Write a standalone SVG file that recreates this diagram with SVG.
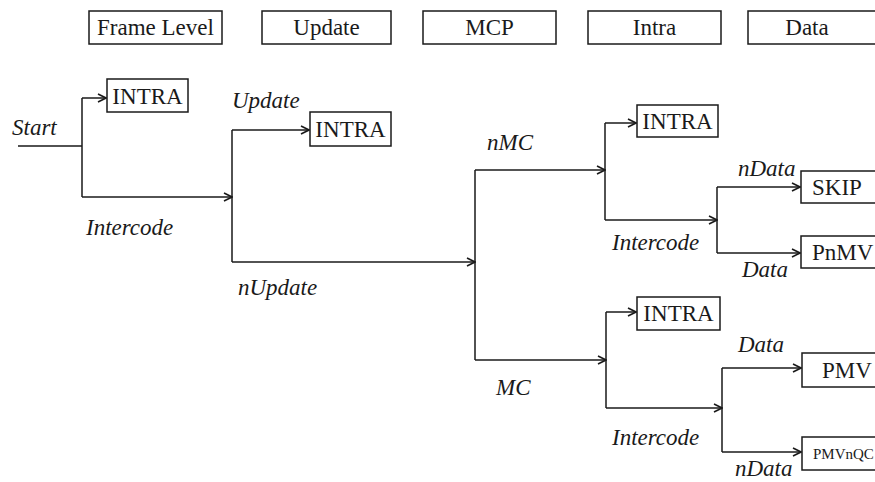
<svg xmlns="http://www.w3.org/2000/svg" width="875" height="482" viewBox="0 0 875 482">
  <style>
    .box { fill: #fff; stroke: #1a1a1a; stroke-width: 1.5; }
    .hdr { font-family: "Liberation Serif", "Times New Roman", serif; font-size: 23px; fill: #1a1a1a; text-anchor: middle; }
    .lbl { font-family: "Liberation Serif", "Times New Roman", serif; font-size: 23px; fill: #1a1a1a; }
    .lbl-c { text-anchor: middle; }
    .small { font-size: 15px; }
    .edge { font-family: "Liberation Serif", "Times New Roman", serif; font-size: 23px; font-style: italic; fill: #1a1a1a; }
    .wire { fill: none; stroke: #1a1a1a; stroke-width: 1.5; }
  </style>
  <defs>
    <marker id="chev" viewBox="0 0 10 10" refX="9" refY="5" markerWidth="10" markerHeight="10" markerUnits="userSpaceOnUse" orient="auto">
      <path d="M1 1 L9 5 L1 9" fill="none" stroke="#1a1a1a" stroke-width="1.6"/>
    </marker>
  </defs>
  <rect width="875" height="482" fill="#fff"/>

  <!-- column headers -->
  <g id="hdr-frame"><rect class="box" x="89" y="11" width="133" height="33"/><text class="hdr" x="155.5" y="35">Frame Level</text></g>
  <g id="hdr-update"><rect class="box" x="262" y="11" width="129" height="33"/><text class="hdr" x="326.5" y="35">Update</text></g>
  <g id="hdr-mcp"><rect class="box" x="423" y="11" width="133" height="33"/><text class="hdr" x="489.5" y="35">MCP</text></g>
  <g id="hdr-intra"><rect class="box" x="588" y="11" width="133" height="33"/><text class="hdr" x="654.5" y="35">Intra</text></g>
  <g id="hdr-data"><rect class="box" x="748" y="11" width="140" height="33"/><text class="hdr" x="807" y="35">Data</text></g>

  <!-- decision outcomes -->
  <g id="intra-frame"><rect class="box" x="107" y="79" width="81" height="33"/><text class="lbl lbl-c" x="147.5" y="104">INTRA</text></g>
  <g id="intra-update"><rect class="box" x="310" y="112" width="81" height="34"/><text class="lbl lbl-c" x="350.5" y="137">INTRA</text></g>
  <g id="intra-nmc"><rect class="box" x="637" y="105" width="81" height="32"/><text class="lbl lbl-c" x="677.5" y="129">INTRA</text></g>
  <g id="intra-mc"><rect class="box" x="637" y="297" width="83" height="33"/><text class="lbl lbl-c" x="678.5" y="321">INTRA</text></g>
  <g id="skip"><rect class="box" x="801" y="171" width="90" height="32"/><text class="lbl" x="812" y="195">SKIP</text></g>
  <g id="pnmv"><rect class="box" x="801" y="236" width="90" height="32"/><text class="lbl" x="812" y="260">PnMV</text></g>
  <g id="pmv"><rect class="box" x="802" y="353" width="90" height="34"/><text class="lbl" x="822" y="378">PMV</text></g>
  <g id="pmvnqc"><rect class="box" x="802" y="437" width="90" height="33"/><text class="lbl small" x="813" y="459">PMVnQC</text></g>

  <!-- connectors -->
  <g id="connectors">
    <path class="wire" d="M18 146 H82 M82 98 V197 M232 130 V262 M475 170 V360 M605 123 V220 M717 187 V253 M606 312 V408 M722 368 V452"/>
    <path class="wire" marker-end="url(#chev)" d="M82 98 H106"/>
    <path class="wire" marker-end="url(#chev)" d="M82 197 H232"/>
    <path class="wire" marker-end="url(#chev)" d="M232 130 H309"/>
    <path class="wire" marker-end="url(#chev)" d="M232 262 H475"/>
    <path class="wire" marker-end="url(#chev)" d="M475 170 H605"/>
    <path class="wire" marker-end="url(#chev)" d="M475 360 H606"/>
    <path class="wire" marker-end="url(#chev)" d="M605 123 H636"/>
    <path class="wire" marker-end="url(#chev)" d="M605 220 H717"/>
    <path class="wire" marker-end="url(#chev)" d="M717 187 H800"/>
    <path class="wire" marker-end="url(#chev)" d="M717 253 H800"/>
    <path class="wire" marker-end="url(#chev)" d="M606 312 H636"/>
    <path class="wire" marker-end="url(#chev)" d="M606 408 H722"/>
    <path class="wire" marker-end="url(#chev)" d="M722 368 H801"/>
    <path class="wire" marker-end="url(#chev)" d="M722 452 H801"/>

    <!-- branch labels -->
    <text class="edge" x="12" y="135">Start</text>
    <text class="edge" x="86" y="235">Intercode</text>
    <text class="edge" x="232" y="108">Update</text>
    <text class="edge" x="238" y="295">nUpdate</text>
    <text class="edge" x="487" y="150">nMC</text>
    <text class="edge" x="496" y="395">MC</text>
    <text class="edge" x="612" y="250">Intercode</text>
    <text class="edge" x="738" y="176">nData</text>
    <text class="edge" x="742" y="277">Data</text>
    <text class="edge" x="738" y="352">Data</text>
    <text class="edge" x="612" y="445">Intercode</text>
    <text class="edge" x="735" y="476">nData</text>
  </g>
</svg>
